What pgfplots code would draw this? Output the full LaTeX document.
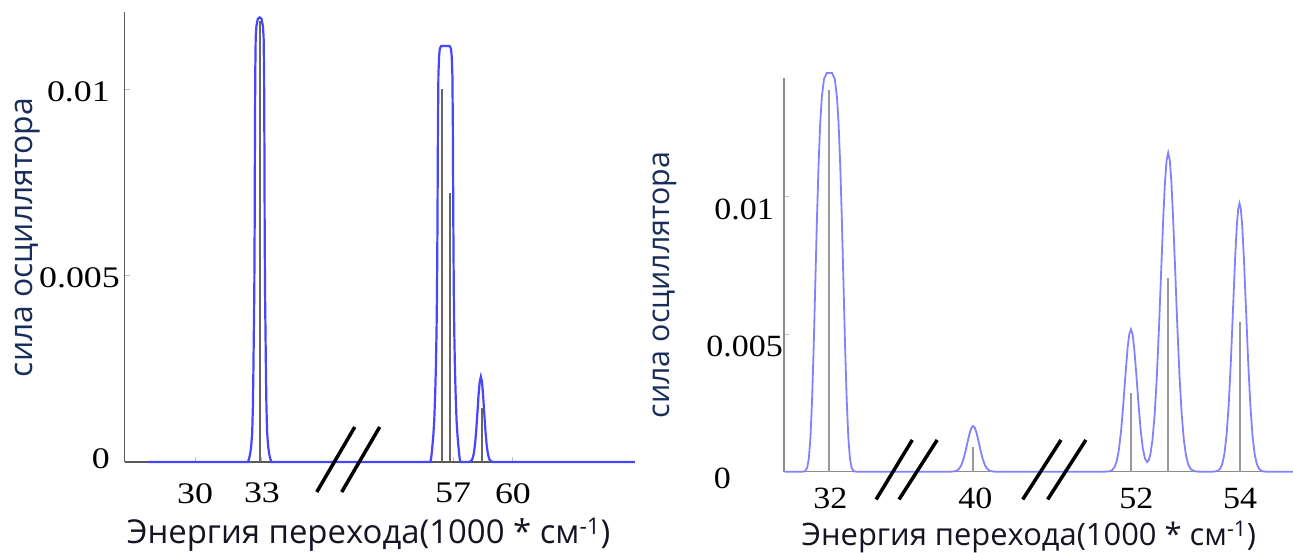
\documentclass[border=0pt]{standalone}
\usepackage{fontspec}
\setmainfont{Open Sans}
\newfontfamily\tickfontL[FakeStretch=1.2]{Liberation Serif}
\newfontfamily\tickfontR[FakeStretch=1.1]{Liberation Serif}
\usepackage{pgfplots}
\pgfplotsset{compat=1.18}

\definecolor{peakblue}{RGB}{70,70,255}
\definecolor{peakblueb}{RGB}{130,130,255}
\definecolor{ynavy}{RGB}{25,45,90}
\definecolor{xdark}{RGB}{20,20,35}

\pgfplotsset{
  spec/.style={
    scale only axis, axis lines*=left, clip=false,
    ymin=0, scaled y ticks=false,
    tick align=inside, major tick length=5bp,
    tick style={draw=black!25, line width=1bp},
    xticklabel style={anchor=north, inner sep=0pt, text=black},
    yticklabel style={anchor=base east, inner sep=0pt, text=black},
    xlabel={Энергия перехода(1000 * см\textsuperscript{-1})},
    ylabel={сила осциллятора},
    xlabel style={anchor=center, text=xdark},
    ylabel style={anchor=center, text=ynavy},
  }
}

\begin{document}
\begin{tikzpicture}
\useasboundingbox (0bp,0bp) rectangle (1293bp,553bp);

% left panel: 33 and 57-60 region, break collapsed by the x filter
\begin{axis}[spec,
  at={(124.5bp,91bp)}, anchor=south west, width=508.5bp, height=450bp,
  xmin=27.2, xmax=49.02, ymax=0.012084,
  x filter/.expression={x>45 ? x-16.1 : x},
  axis line style={draw=black!65, line width=1.5bp},
  xtick={30.23,33.10,41.30,43.87}, xticklabels={30,33,57,60},
  ytick={0,0.005,0.01},
  yticklabels={\raisebox{5bp}{0}\kern10bp, 0.005, 0.01\kern10bp},
  ticklabel style={font=\tickfontL\fontsize{30}{36}\selectfont},
  xticklabel style={yshift=-21bp},
  yticklabel style={xshift=-4.5bp, yshift=-11.6bp},
  xlabel style={at={(axis description cs:0.48,-0.162)}, font=\fontsize{33}{38}\selectfont},
  ylabel style={at={(axis description cs:-0.19,0.499)}, font=\fontsize{32}{38}\selectfont},
]
\addplot[peakblue, line width=2.2bp] coordinates {
  (28.2,0) (32.50,0) (32.55,0.0001) (32.60,0.00025) (32.64,0.00045) (32.68,0.0008)
  (32.71,0.0015) (32.73,0.0024) (32.75,0.0035) (32.77,0.0046) (32.785,0.0063)
  (32.795,0.0083) (32.81,0.0104) (32.83,0.0114) (32.86,0.0117) (32.92,0.0119)
  (33.00,0.01194) (33.08,0.0119) (33.14,0.0117) (33.17,0.0114) (33.19,0.0104)
  (33.205,0.0083) (33.215,0.0063) (33.23,0.0046) (33.25,0.0035) (33.27,0.0024)
  (33.29,0.0015) (33.32,0.0008) (33.36,0.00045) (33.40,0.00025) (33.45,0.0001)
  (33.50,0) (36.9,0)
  (53.0,0) (56.42,0) (56.46,0.0001) (56.50,0.00035) (56.55,0.0007) (56.59,0.0011)
  (56.63,0.0018) (56.66,0.0025) (56.69,0.0035) (56.71,0.0046) (56.73,0.0064)
  (56.75,0.0090) (56.77,0.0104) (56.80,0.0109) (56.83,0.0111) (56.89,0.01117)
  (57.25,0.01117) (57.31,0.0111) (57.34,0.0109) (57.37,0.0104) (57.39,0.0090)
  (57.41,0.0064) (57.43,0.0046) (57.45,0.0035) (57.48,0.0025) (57.51,0.0018)
  (57.55,0.0011) (57.59,0.0007) (57.64,0.00035) (57.68,0.0001) (57.72,0) (58.04,0)
  (58.11,0.0000064) (58.19,0.0000387) (58.24,0.0001) (58.29,0.000231) (58.34,0.000465)
  (58.39,0.000825) (58.44,0.00129) (58.49,0.001774) (58.54,0.002148) (58.59,0.00229)
  (58.64,0.002148) (58.69,0.001774) (58.74,0.00129) (58.79,0.000825) (58.84,0.000465)
  (58.89,0.000231) (58.94,0.0001) (58.99,0.0000387) (59.07,0.0000064) (59.14,0)
  (65.2,0)
};
\addplot[ycomb, no marks, black!60, line width=2.2bp] coordinates {
  (33.0,0.01185) (56.94,0.01001) (57.27,0.00722) (58.63,0.00146)
};
\draw[black, line width=3.5bp] (axis cs:35.45,-0.000806) -- (axis cs:37.08,0.00094);
\draw[black, line width=3.5bp] (axis cs:36.52,-0.000806) -- (axis cs:38.15,0.00094);
\end{axis}

% right panel: 32, 40 and 52-54 regions
\begin{axis}[spec,
  at={(784bp,81.3bp)}, anchor=south west, width=509bp, height=393.4bp,
  xmin=45.58, xmax=55.0, ymax=0.01431,
  x filter/.expression={x<36 ? x+14.42 : (x<45 ? x+9.08 : x)},
  axis line style={draw=black!45, line width=1.5bp},
  xtick={46.44,49.12,52.1,54.02}, xticklabels={32,40,52,54},
  xtick style={draw=none},
  ytick={0,0.005,0.01},
  yticklabels={\raisebox{6bp}{0}\kern52bp, 0.005, 0.01\kern9bp},
  ticklabel style={font=\tickfontR\fontsize{31}{36}\selectfont},
  xticklabel style={yshift=-15.8bp},
  yticklabel style={xshift=-1bp, yshift=-22.5bp},
  xlabel style={at={(axis description cs:0.481,-0.166)}, font=\fontsize{31}{36}\selectfont},
  ylabel style={at={(axis description cs:-0.234,0.4746)}, font=\fontsize{30.5}{36}\selectfont},
]
\addplot[peakblueb, line width=1.8bp] coordinates {
  (31.17,0) (31.50,0) (31.55,0.0000184) (31.59,0.000146) (31.62,0.000488) (31.65,0.001264)
  (31.68,0.002635) (31.71,0.00459) (31.74,0.0069) (31.77,0.00921) (31.80,0.01118)
  (31.83,0.01267) (31.86,0.01363) (31.90,0.01428) (31.95,0.0145) (32.00,0.01451)
  (32.05,0.0145) (32.10,0.01428) (32.14,0.01363) (32.17,0.01267) (32.20,0.01118)
  (32.23,0.00921) (32.26,0.0069) (32.29,0.00459) (32.32,0.002635) (32.35,0.001264)
  (32.38,0.000488) (32.41,0.000146) (32.45,0.0000184) (32.50,0) (32.80,0)
  (38.3,0) (39.58,0) (39.65,0.0000115) (39.70,0.000043) (39.74,0.000107) (39.78,0.000233)
  (39.82,0.000446) (39.86,0.000749) (39.90,0.001106) (39.94,0.001434) (39.97,0.0016)
  (40.00,0.00166) (40.03,0.0016) (40.06,0.001434) (40.10,0.001106) (40.14,0.000749)
  (40.18,0.000446) (40.22,0.000233) (40.26,0.000107) (40.30,0.000043) (40.35,0.0000115)
  (40.42,0) (40.80,0)
  (50.6,0) (51.50,0) (51.60,0.0000122) (51.65,0.0000505) (51.70,0.000172) (51.74,0.000402)
  (51.78,0.000831) (51.82,0.001522) (51.86,0.002469) (51.90,0.003549) (51.94,0.004521)
  (51.97,0.005007) (52.00,0.00518) (52.03,0.005007) (52.06,0.004521) (52.10,0.00355)
  (52.14,0.002472) (52.18,0.001531) (52.22,0.000858) (52.26,0.000475) (52.30,0.000351)
  (52.33,0.000416) (52.36,0.000623) (52.40,0.001168) (52.44,0.002091) (52.48,0.003459)
  (52.52,0.005249) (52.56,0.007296) (52.60,0.009288) (52.63,0.01051) (52.66,0.01132)
  (52.69,0.0116) (52.72,0.01132) (52.75,0.01051) (52.78,0.009288) (52.82,0.007296)
  (52.86,0.005249) (52.90,0.003459) (52.94,0.002088) (52.98,0.001156) (53.02,0.000585)
  (53.06,0.000271) (53.10,0.000115) (53.15,0.0000349) (53.22,0.0000052) (53.30,0)
  (53.50,0) (53.56,0.0000086) (53.61,0.0000377) (53.65,0.000108) (53.69,0.000279)
  (53.73,0.000641) (53.77,0.001321) (53.81,0.002434) (53.85,0.004012) (53.89,0.00592)
  (53.93,0.007815) (53.96,0.008949) (53.985,0.00955) (54.01,0.00976) (54.035,0.00955)
  (54.06,0.008949) (54.09,0.007815) (54.13,0.00592) (54.17,0.004012) (54.21,0.002434)
  (54.25,0.001321) (54.29,0.000641) (54.33,0.000279) (54.37,0.000108) (54.41,0.0000377)
  (54.46,0.0000086) (54.52,0) (55.0,0)
};
\addplot[ycomb, no marks, black!40, line width=2bp] coordinates {
  (32.0,0.01388) (40.0,0.00089) (52.0,0.00285) (52.69,0.00703) (54.01,0.00545)
};
\draw[black, line width=3.5bp] (axis cs:47.285,-0.00101) -- (axis cs:47.954,0.001155);
\draw[black, line width=3.5bp] (axis cs:47.709,-0.00101) -- (axis cs:48.415,0.001155);
\draw[black, line width=3.5bp] (axis cs:49.998,-0.00101) -- (axis cs:50.706,0.001155);
\draw[black, line width=3.5bp] (axis cs:50.459,-0.00101) -- (axis cs:51.167,0.001155);
\end{axis}
\end{tikzpicture}
\end{document}
